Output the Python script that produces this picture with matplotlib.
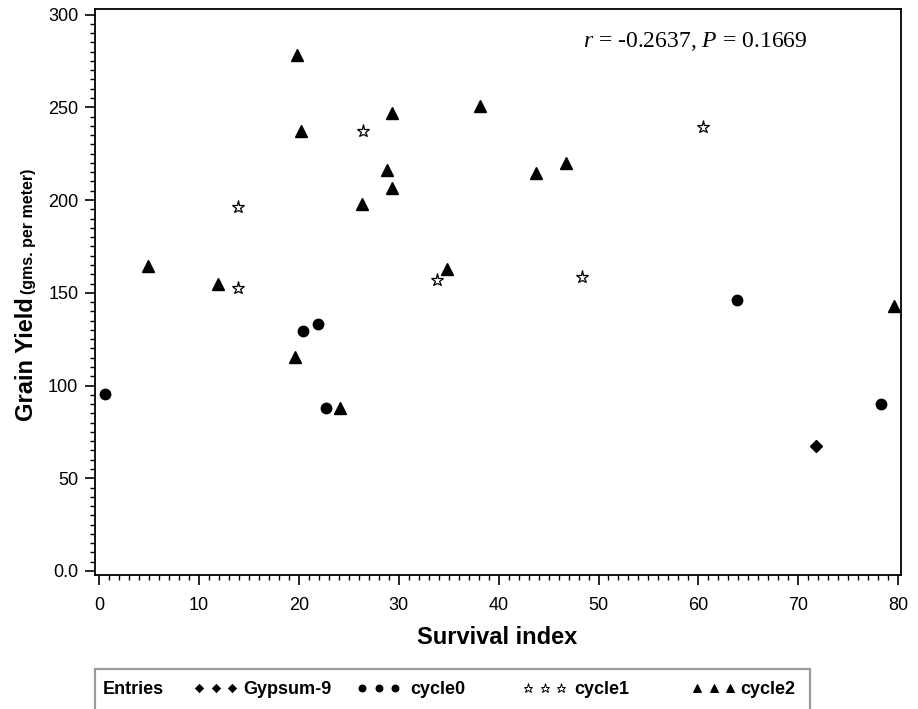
import matplotlib as mpl
mpl.use('Agg')
import matplotlib.pyplot as plt
from matplotlib.lines import Line2D
from matplotlib.patches import Rectangle
from matplotlib.ticker import MultipleLocator

# data
gypsum_x = [71.8]
gypsum_y = [67.4]

cycle0_x = [0.6, 20.4, 21.9, 22.7, 63.9, 78.3]
cycle0_y = [95.6, 129.2, 133.4, 87.8, 146.0, 90.2]

cycle1_x = [13.9, 13.9, 26.4, 33.8, 48.3, 60.5]
cycle1_y = [196.0, 152.8, 237.0, 157.0, 158.6, 239.4]

cycle2_x = [19.8, 20.2, 29.3, 38.1, 28.8, 29.3, 26.3, 43.7, 46.7,
            4.9, 11.9, 34.8, 19.6, 79.6, 24.1]
cycle2_y = [278.0, 237.0, 247.0, 250.8, 216.4, 206.4, 197.8, 214.4, 219.8,
            164.2, 154.6, 162.8, 115.2, 143.0, 88.0]

legend_labels = ['Gypsum-9', 'cycle0', 'cycle1', 'cycle2']
stat_text = r'$r$ = -0.2637, $P$ = 0.1669'

plt.rcParams['font.family'] = ['Liberation Sans', 'DejaVu Sans']
plt.rcParams['mathtext.fontset'] = 'custom'
plt.rcParams['mathtext.it'] = 'Liberation Serif:italic'
plt.rcParams['mathtext.rm'] = 'Liberation Serif'

fig = plt.figure(figsize=(9.18, 7.09), dpi=100)
ax = fig.add_axes([95 / 918, 1 - 575 / 709, 806 / 918, 566 / 709])

# points
ax.plot(gypsum_x, gypsum_y, 'D', color='black', ms=6.5, linestyle='none')
ax.plot(cycle0_x, cycle0_y, 'o', color='black', ms=7.5, linestyle='none')
ax.plot(cycle1_x, cycle1_y, '*', mfc='white', mec='black', mew=0.9, ms=9.5,
        linestyle='none')
ax.plot(cycle2_x, cycle2_y, '^', color='black', ms=8.5, linestyle='none')

# axes range and ticks
ax.set_xlim(-0.4, 80.28)
ax.set_ylim(-2.16, 303)
ax.set_xticks(range(0, 81, 10))
ax.set_yticks(range(0, 301, 50))
ax.set_yticklabels(['0.0'] + [str(v) for v in range(50, 301, 50)])
ax.xaxis.set_minor_locator(MultipleLocator(1))
ax.yaxis.set_minor_locator(MultipleLocator(5))
ax.tick_params(which='major', direction='out', length=7, width=1.2,
               labelsize=13, top=False, right=False)
ax.tick_params(which='minor', direction='out', length=3.5, width=1,
               top=False, right=False)
ax.tick_params(axis='x', which='major', pad=9)
ax.tick_params(axis='y', which='major', pad=5)
for s in ax.spines.values():
    s.set_linewidth(1.3)

# statistics text
ax.text(0.745, 0.933, stat_text, transform=ax.transAxes, ha='center',
        va='baseline', fontsize=17, family='Liberation Serif')

# axis titles
fig.text(497 / 918, 1 - 637 / 709, 'Survival index', ha='center',
         va='center', fontsize=17, fontweight='bold')
fig.text(33 / 918, 1 - 297 / 709, 'Grain Yield', rotation=90,
         rotation_mode='anchor', ha='right', va='baseline',
         fontsize=17, fontweight='bold')
fig.text(33 / 918, 1 - 294 / 709, '(gms. per meter)', rotation=90,
         rotation_mode='anchor', ha='left', va='baseline',
         fontsize=11.5, fontweight='bold')

# legend box at the bottom
fig.add_artist(Rectangle((95 / 918, -0.05), 715 / 918, 0.05 + 1 - 669 / 709,
                         transform=fig.transFigure, fill=False,
                         edgecolor='#9a9a9a', linewidth=1.6))
text_y = 1 - 694 / 709
mark_y = 1 - 688 / 709
fig.text(103 / 918, text_y, 'Entries', ha='left', va='baseline',
         fontsize=13, fontweight='bold')
legend_marks = [('D', 4, 'black'), ('o', 5, 'black'),
                ('*', 6.5, 'white'), ('^', 5.5, 'black')]
mark_x = [199, 362, 528, 697]
text_x = [243, 410, 574, 740]
for (m, size, fc), mx, tx, lab in zip(legend_marks, mark_x, text_x,
                                      legend_labels):
    xs = [(mx + i * 16.5) / 918 for i in range(3)]
    fig.add_artist(Line2D(xs, [mark_y] * 3, marker=m, ms=size, mfc=fc,
                          mec='black', mew=0.7, linestyle='none',
                          transform=fig.transFigure))
    fig.text(tx / 918, text_y, lab, ha='left', va='baseline',
             fontsize=13, fontweight='bold')

plt.savefig('out.png', dpi=100)
plt.close()
